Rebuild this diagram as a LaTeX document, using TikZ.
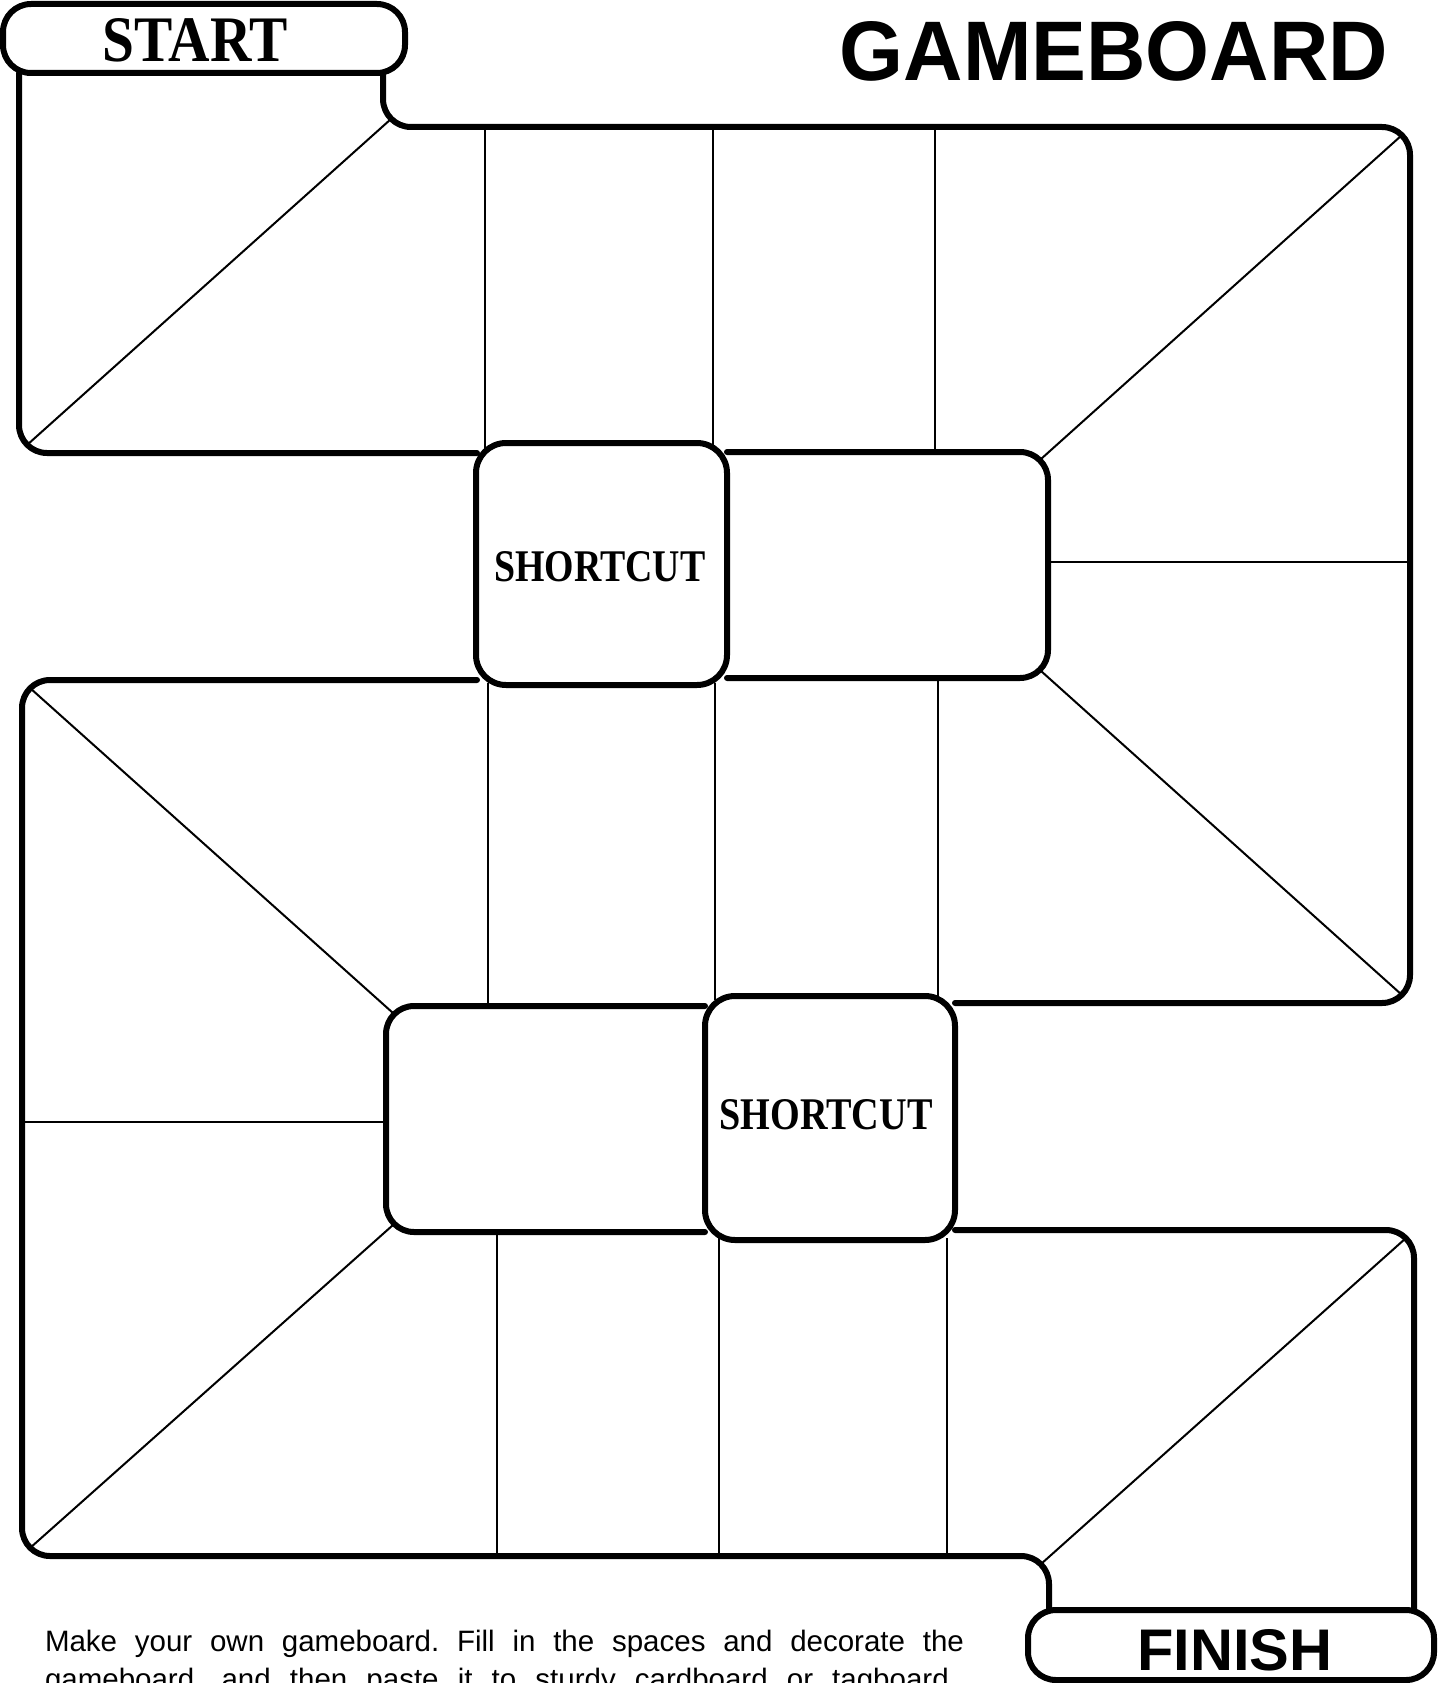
\documentclass[tikz,border=0pt]{standalone}
\usepackage{fontspec}
\usepackage{graphicx}
\setmainfont{Liberation Sans}
\newfontfamily\titleserif{Liberation Serif}
\newfontfamily\titlesans{Liberation Sans}
\frenchspacing
\tikzset{
  board/.style={line width=6pt, rounded corners=28pt, line join=round, line cap=round},
  cell/.style={line width=2pt},
  tile/.style={draw, line width=6pt, rounded corners=30pt, fill=white, inner sep=0pt, outer sep=0pt},
  lbl/.style={inner sep=0pt, outer sep=0pt}
}
\begin{document}
\begin{tikzpicture}[x=1pt, y=-1pt]
\useasboundingbox (0,0) rectangle (1437,1683);
\clip (0,0) rectangle (1437,1683);
% thin cell lines
\draw[cell] (485,127) -- (485,452);
\draw[cell] (713,127) -- (713,450);
\draw[cell] (935,127) -- (935,452);
\draw[cell] (488,683) -- (488,1006);
\draw[cell] (715,683) -- (715,1000);
\draw[cell] (938,678) -- (938,1003);
\draw[cell] (497,1232) -- (497,1556);
\draw[cell] (719,1238) -- (719,1556);
\draw[cell] (947,1238) -- (947,1556);
\draw[cell] (1048,562) -- (1410,562);
\draw[cell] (22,1122) -- (386,1122);
% diagonals
\draw[cell] (391,119) -- (27,445);
\draw[cell] (1402,135) -- (1041,459);
\draw[cell] (1041,671) -- (1402,995);
\draw[cell] (30,688) -- (393,1013);
\draw[cell] (393,1225) -- (30,1548);
\draw[cell] (1406,1238) -- (1041,1564);
% thick board outline
\draw[board] (383,73) -- (383,127) -- (1410,127) -- (1410,1003) -- (955,1003);
\draw[board] (19,73) -- (19,453) -- (477,453);
\draw[board] (727,452) -- (1048,452) -- (1048,678) -- (727,678);
\draw[board] (477,680) -- (22,680) -- (22,1556) -- (1049,1556) -- (1049,1610);
\draw[board] (705,1006) -- (386,1006) -- (386,1232) -- (705,1232);
\draw[board] (955,1230) -- (1414,1230) -- (1414,1610);
% shortcut tiles
\node[tile, minimum width=251pt, minimum height=242pt] (sc1) at (601.5,564) {};
\node[tile, minimum width=250pt, minimum height=244pt] (sc2) at (830,1118) {};
\node[lbl] (sc1text) at (600,567) {\resizebox{211pt}{30pt}{\titleserif\bfseries SHORTCUT}};
\node[lbl] (sc2text) at (826,1115) {\resizebox{213pt}{30pt}{\titleserif\bfseries SHORTCUT}};
% start and finish
\node[tile, rounded corners=28pt, minimum width=402pt, minimum height=69pt] (startbox) at (204,38.5) {};
\node[lbl] (starttext) at (195.5,40.5) {\resizebox{185pt}{43pt}{\titleserif\bfseries START}};
\node[tile, rounded corners=28pt, minimum width=406pt, minimum height=70pt] (finishbox) at (1231,1645) {};
\node[lbl] (finishtext) at (1235,1650) {\resizebox{195pt}{41pt}{\titlesans\bfseries FINISH}};
% title
\node[lbl] (title) at (1114,51) {\resizebox{548pt}{59pt}{\titlesans\bfseries GAMEBOARD}};
% instructions
\node[lbl, anchor=base west] (line1) at (45,1651) {\fontsize{29.5}{35}\selectfont\makebox[919pt][s]{Make your own gameboard. Fill in the spaces and decorate the}};
\node[lbl, anchor=base west] (line2) at (45,1689) {\fontsize{29.5}{35}\selectfont\makebox[912pt][s]{gameboard, and then paste it to sturdy cardboard or tagboard.}};
\end{tikzpicture}
\end{document}
